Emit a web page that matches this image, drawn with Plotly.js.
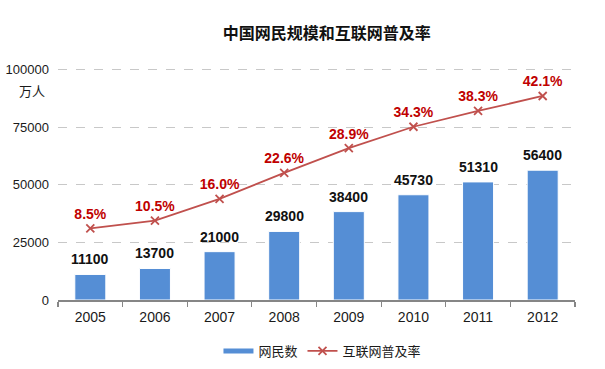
<!DOCTYPE html>
<html>
<head>
<meta charset="utf-8">
<script src="https://cdn.plot.ly/plotly-3.0.1.min.js"></script>
<style>html,body{margin:0;padding:0;background:#fff;}#chart{width:605px;height:369px;}</style>
</head>
<body>
<div id="chart"></div>
<script>
const years = ['2005','2006','2007','2008','2009','2010','2011','2012'];
const netizens = [11100, 13700, 21000, 29800, 38400, 45730, 51310, 56400];
const penetration = [8.5, 10.5, 16.0, 22.6, 28.9, 34.3, 38.3, 42.1];
const yTicks = [0, 25000, 50000, 75000, 100000];
const seriesNames = ['网民数', '互联网普及率'];
const titleText = '中国网民规模和互联网普及率';
const unitText = '万人';

const FONT = '"Liberation Sans", Arial, "Noto Sans CJK SC", sans-serif';
const BLUE = '#558ED5';
const RED = '#C0504D';

const traces = [
  {
    type: 'bar', x: years, y: netizens, name: seriesNames[0], showlegend: false,
    marker: {color: BLUE, line: {color: '#ffffff', width: 1}},
    hoverinfo: 'skip'
  },
  {
    type: 'scatter', mode: 'lines', x: [null], y: [null], name: seriesNames[0],
    line: {color: BLUE, width: 5}, hoverinfo: 'skip'
  },
  {
    type: 'scatter', mode: 'lines+markers+text', x: years, y: penetration, yaxis: 'y2',
    name: seriesNames[1],
    line: {color: RED, width: 1.8},
    marker: {symbol: 'x-thin', size: 8, color: RED, line: {color: RED, width: 1.8}},
    text: penetration.map(v => v.toFixed(1) + '%'), textposition: 'top center',
    textfont: {family: FONT, size: 14, color: '#C00000', weight: 'bold'},
    cliponaxis: false, hoverinfo: 'skip'
  }
];

const barLabels = years.map((yr, i) => ({
  x: i, y: netizens[i], xref: 'x', yref: 'y', text: String(netizens[i]),
  xanchor: 'center', yanchor: 'bottom', yshift: 5, showarrow: false,
  font: {family: FONT, size: 14, color: '#111111', weight: 'bold'}
}));

const layout = {
  width: 605, height: 369,
  margin: {l: 58, r: 30, t: 68, b: 69, autoexpand: false},
  paper_bgcolor: '#ffffff', plot_bgcolor: '#ffffff',
  font: {family: FONT, size: 13, color: '#262626'},
  title: {
    text: titleText, x: 0.52, xanchor: 'center', xref: 'paper', y: 0.91, yanchor: 'middle', yref: 'container',
    font: {family: '"Noto Sans CJK SC", sans-serif', size: 16, color: '#111111', weight: 'bold'}
  },
  bargap: 0.52,
  xaxis: {
    type: 'category', categoryarray: years, categoryorder: 'array', range: [-0.5, years.length - 0.5],
    showline: true, linecolor: '#868686', linewidth: 1.5,
    ticks: 'outside', tickson: 'boundaries', ticklen: 5, tickcolor: '#868686', tickwidth: 1.2,
    ticklabelstandoff: 4,
    showgrid: false, tickfont: {family: FONT, size: 14, color: '#1a1a1a'}, fixedrange: true
  },
  yaxis: {
    range: [0, 100800], tickvals: yTicks, ticktext: yTicks.map(String),
    showgrid: true, gridcolor: '#c8c8c8', griddash: 'dash', gridwidth: 1,
    zeroline: false, showline: false, ticks: '', ticklabelstandoff: 8,
    tickfont: {family: FONT, size: 13, color: '#1a1a1a'}, fixedrange: true
  },
  yaxis2: {overlaying: 'y', side: 'right', range: [-9.64, 49.2], visible: false, fixedrange: true},
  legend: {
    orientation: 'h', x: 0.533, xanchor: 'center', xref: 'container', y: 0.0488, yanchor: 'middle', yref: 'container',
    font: {family: '"Noto Sans CJK SC", sans-serif', size: 13, color: '#1a1a1a'},
    itemwidth: 30, bgcolor: 'rgba(0,0,0,0)'
  },
  annotations: [{
    text: unitText, xref: 'paper', yref: 'paper', x: -0.0213, y: 0.905,
    xanchor: 'right', yanchor: 'middle', showarrow: false,
    font: {family: '"Noto Sans CJK SC", sans-serif', size: 13, color: '#1a1a1a'}
  }].concat(barLabels),
  showlegend: true
};

Plotly.newPlot('chart', traces, layout, {displayModeBar: false, staticPlot: true});
</script>
</body>
</html>
